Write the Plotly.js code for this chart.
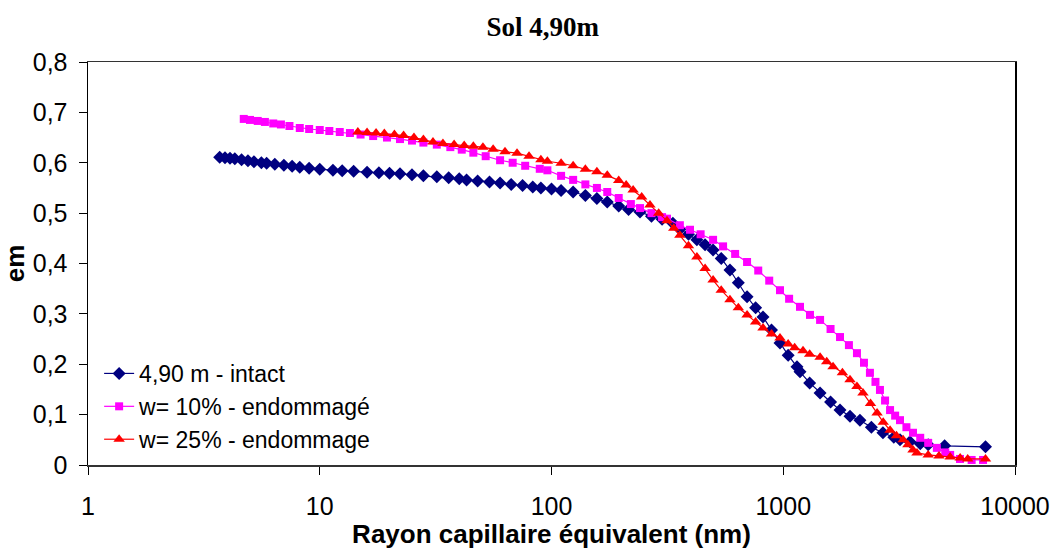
<!DOCTYPE html>
<html>
<head>
<meta charset="utf-8">
<script src="https://cdn.plot.ly/plotly-3.0.1.min.js"></script>
<style>
  html, body { margin: 0; padding: 0; background: #fff; }
  #chart { width: 1054px; height: 556px; }
</style>
</head>
<body>
<div id="chart"></div>
<script>
// ---- Data ----
const seriesNames = ["4,90 m - intact", "w= 10% - endommagé", "w= 25% - endommage"];

const intactX = [3.7, 3.9, 4.1, 4.3, 4.6, 4.9, 5.2, 5.6, 5.9, 6.4, 7.0, 7.6, 8.2, 9.0, 10, 11.4, 12.5, 14, 16, 18, 20, 22.2, 25, 28, 32, 36, 40, 43, 48, 54, 60, 67, 75, 83, 90, 100, 110, 124, 140, 157, 174, 195, 215, 241, 270, 300, 334, 358, 390, 424, 460, 498, 540, 589, 640, 698, 760, 818, 890, 968, 1050, 1146, 1181, 1300, 1442, 1600, 1758, 1941, 2143, 2400, 2693, 3000, 3190, 3520, 3900, 4220, 4970, 7460];
const intactY = [0.611, 0.610, 0.609, 0.608, 0.606, 0.604, 0.602, 0.600, 0.599, 0.597, 0.595, 0.593, 0.591, 0.589, 0.587, 0.585, 0.584, 0.583, 0.581, 0.580, 0.579, 0.578, 0.576, 0.574, 0.572, 0.570, 0.568, 0.566, 0.564, 0.562, 0.560, 0.557, 0.555, 0.552, 0.550, 0.548, 0.545, 0.542, 0.535, 0.529, 0.522, 0.514, 0.507, 0.502, 0.494, 0.488, 0.480, 0.468, 0.458, 0.447, 0.437, 0.427, 0.410, 0.387, 0.362, 0.334, 0.312, 0.294, 0.268, 0.242, 0.218, 0.195, 0.185, 0.163, 0.143, 0.125, 0.109, 0.097, 0.089, 0.075, 0.064, 0.055, 0.050, 0.046, 0.042, 0.040, 0.038, 0.036];

const w10X = [4.7, 5.0, 5.4, 5.8, 6.3, 6.8, 7.4, 8.2, 9.0, 10, 11, 12.2, 13.5, 15, 17, 19.5, 22.2, 25, 28, 32, 36.6, 41, 46, 52, 60, 68, 77, 89, 96, 110, 124, 140, 157, 174, 195, 220, 241, 270, 300, 315, 358, 396, 440, 498, 550, 620, 698, 780, 870, 968, 1060, 1181, 1304, 1442, 1600, 1758, 1920, 2080, 2230, 2366, 2500, 2614, 2750, 2890, 3040, 3190, 3400, 3630, 3900, 4220, 4600, 5000, 5250, 5790, 6500, 7280];
const w10Y = [0.687, 0.685, 0.683, 0.681, 0.678, 0.676, 0.673, 0.669, 0.667, 0.665, 0.663, 0.661, 0.659, 0.656, 0.653, 0.650, 0.647, 0.644, 0.640, 0.636, 0.631, 0.626, 0.620, 0.613, 0.605, 0.600, 0.594, 0.588, 0.585, 0.574, 0.566, 0.557, 0.550, 0.542, 0.530, 0.518, 0.510, 0.500, 0.492, 0.489, 0.476, 0.467, 0.458, 0.447, 0.434, 0.419, 0.403, 0.386, 0.366, 0.347, 0.330, 0.314, 0.298, 0.288, 0.270, 0.254, 0.238, 0.222, 0.203, 0.183, 0.165, 0.149, 0.128, 0.109, 0.098, 0.089, 0.075, 0.064, 0.054, 0.044, 0.034, 0.025, 0.020, 0.012, 0.010, 0.010];

const w25X = [14.6, 16, 17.5, 19, 21, 23, 25.5, 28, 30.8, 34, 38, 42, 46, 50.6, 56, 63, 71, 80, 90, 96, 110, 124, 140, 157, 174, 195, 210, 225, 245, 266, 290, 315, 337, 358, 390, 424, 460, 498, 540, 589, 640, 698, 760, 818, 890, 968, 1050, 1120, 1217, 1300, 1442, 1540, 1640, 1800, 1941, 2080, 2208, 2380, 2540, 2700, 2890, 3080, 3290, 3450, 3630, 3776, 4220, 4700, 5250, 5800, 6250, 7460];
const w25Y = [0.661, 0.660, 0.659, 0.658, 0.656, 0.654, 0.650, 0.646, 0.641, 0.638, 0.636, 0.634, 0.633, 0.631, 0.627, 0.622, 0.619, 0.613, 0.606, 0.603, 0.599, 0.594, 0.587, 0.582, 0.575, 0.565, 0.556, 0.546, 0.532, 0.516, 0.500, 0.485, 0.470, 0.456, 0.435, 0.413, 0.390, 0.367, 0.347, 0.328, 0.312, 0.298, 0.284, 0.272, 0.260, 0.252, 0.240, 0.233, 0.227, 0.220, 0.214, 0.205, 0.195, 0.183, 0.169, 0.156, 0.143, 0.122, 0.103, 0.085, 0.069, 0.058, 0.050, 0.040, 0.030, 0.024, 0.020, 0.018, 0.016, 0.014, 0.012, 0.012];

const xTickVals = [1, 10, 100, 1000, 10000];
const xTickText = ["1", "10", "100", "1000", "10000"];
const yTickVals = [0, 0.1, 0.2, 0.3, 0.4, 0.5, 0.6, 0.7, 0.8];
const yTickText = ["0", "0,1", "0,2", "0,3", "0,4", "0,5", "0,6", "0,7", "0,8"];

// ---- Traces ----
const traces = [
  {
    x: intactX, y: intactY, name: seriesNames[0], type: "scatter", mode: "lines+markers",
    legendgroup: "a",
    line: { color: "#000080", width: 1.2 },
    marker: { symbol: "diamond", size: 10, color: "#000080" }
  },
  {
    x: w10X, y: w10Y, name: seriesNames[1], type: "scatter", mode: "lines+markers",
    legendgroup: "b",
    line: { color: "#FF00FF", width: 1.2 },
    marker: { symbol: "square", size: 8, color: "#FF00FF" }
  },
  {
    x: w25X, y: w25Y, name: seriesNames[2], type: "scatter", mode: "lines+markers",
    legendgroup: "c",
    line: { color: "#FF0000", width: 1.2 },
    marker: { symbol: "triangle-up", size: 10, color: "#FF0000" }
  }
];

const layout = {
  width: 1054, height: 556,
  paper_bgcolor: "#fff", plot_bgcolor: "#fff",
  margin: { l: 88, r: 39, t: 62, b: 91 },
  separators: ",.",
  title: {
    text: "<b>Sol 4,90m</b>",
    font: { family: "Liberation Serif, Times New Roman, serif", size: 27, color: "#000" },
    x: 0.515, xanchor: "center", y: 0.952, yanchor: "middle"
  },
  xaxis: {
    type: "log", range: [0, 4],
    tickvals: xTickVals, ticktext: xTickText,
    ticks: "outside", ticklen: 8, tickcolor: "#000", tickwidth: 1,
    showline: true, linecolor: "#333", linewidth: 1.5, mirror: true,
    showgrid: false, zeroline: false,
    tickfont: { family: "Liberation Sans, Arial, sans-serif", size: 25, color: "#000" },
    ticklabelstandoff: 10,
    title: { text: "<b>Rayon capillaire équivalent (nm)</b>", font: { family: "Liberation Sans, Arial, sans-serif", size: 26, color: "#000" }, standoff: 5 }
  },
  yaxis: {
    range: [0, 0.8],
    tickvals: yTickVals, ticktext: yTickText,
    ticks: "outside", ticklen: 8, tickcolor: "#000", tickwidth: 1,
    showline: true, linecolor: "#000", linewidth: 1.5, mirror: true,
    showgrid: false, zeroline: false,
    tickfont: { family: "Liberation Sans, Arial, sans-serif", size: 25, color: "#000" },
    ticklabelstandoff: 6,
    title: { text: "<b>em</b>", font: { family: "Liberation Sans, Arial, sans-serif", size: 26, color: "#000" }, standoff: 0 }
  },
  showlegend: true,
  legend: {
    x: 0.012, y: 0.01, xanchor: "left", yanchor: "bottom",
    bgcolor: "rgba(255,255,255,0)", borderwidth: 0,
    traceorder: "grouped", tracegroupgap: 0,
    font: { family: "Liberation Sans, Arial, sans-serif", size: 23, color: "#000" },
    itemwidth: 30
  }
};

Plotly.newPlot("chart", traces, layout, { displayModeBar: false, staticPlot: true });
</script>
</body>
</html>
